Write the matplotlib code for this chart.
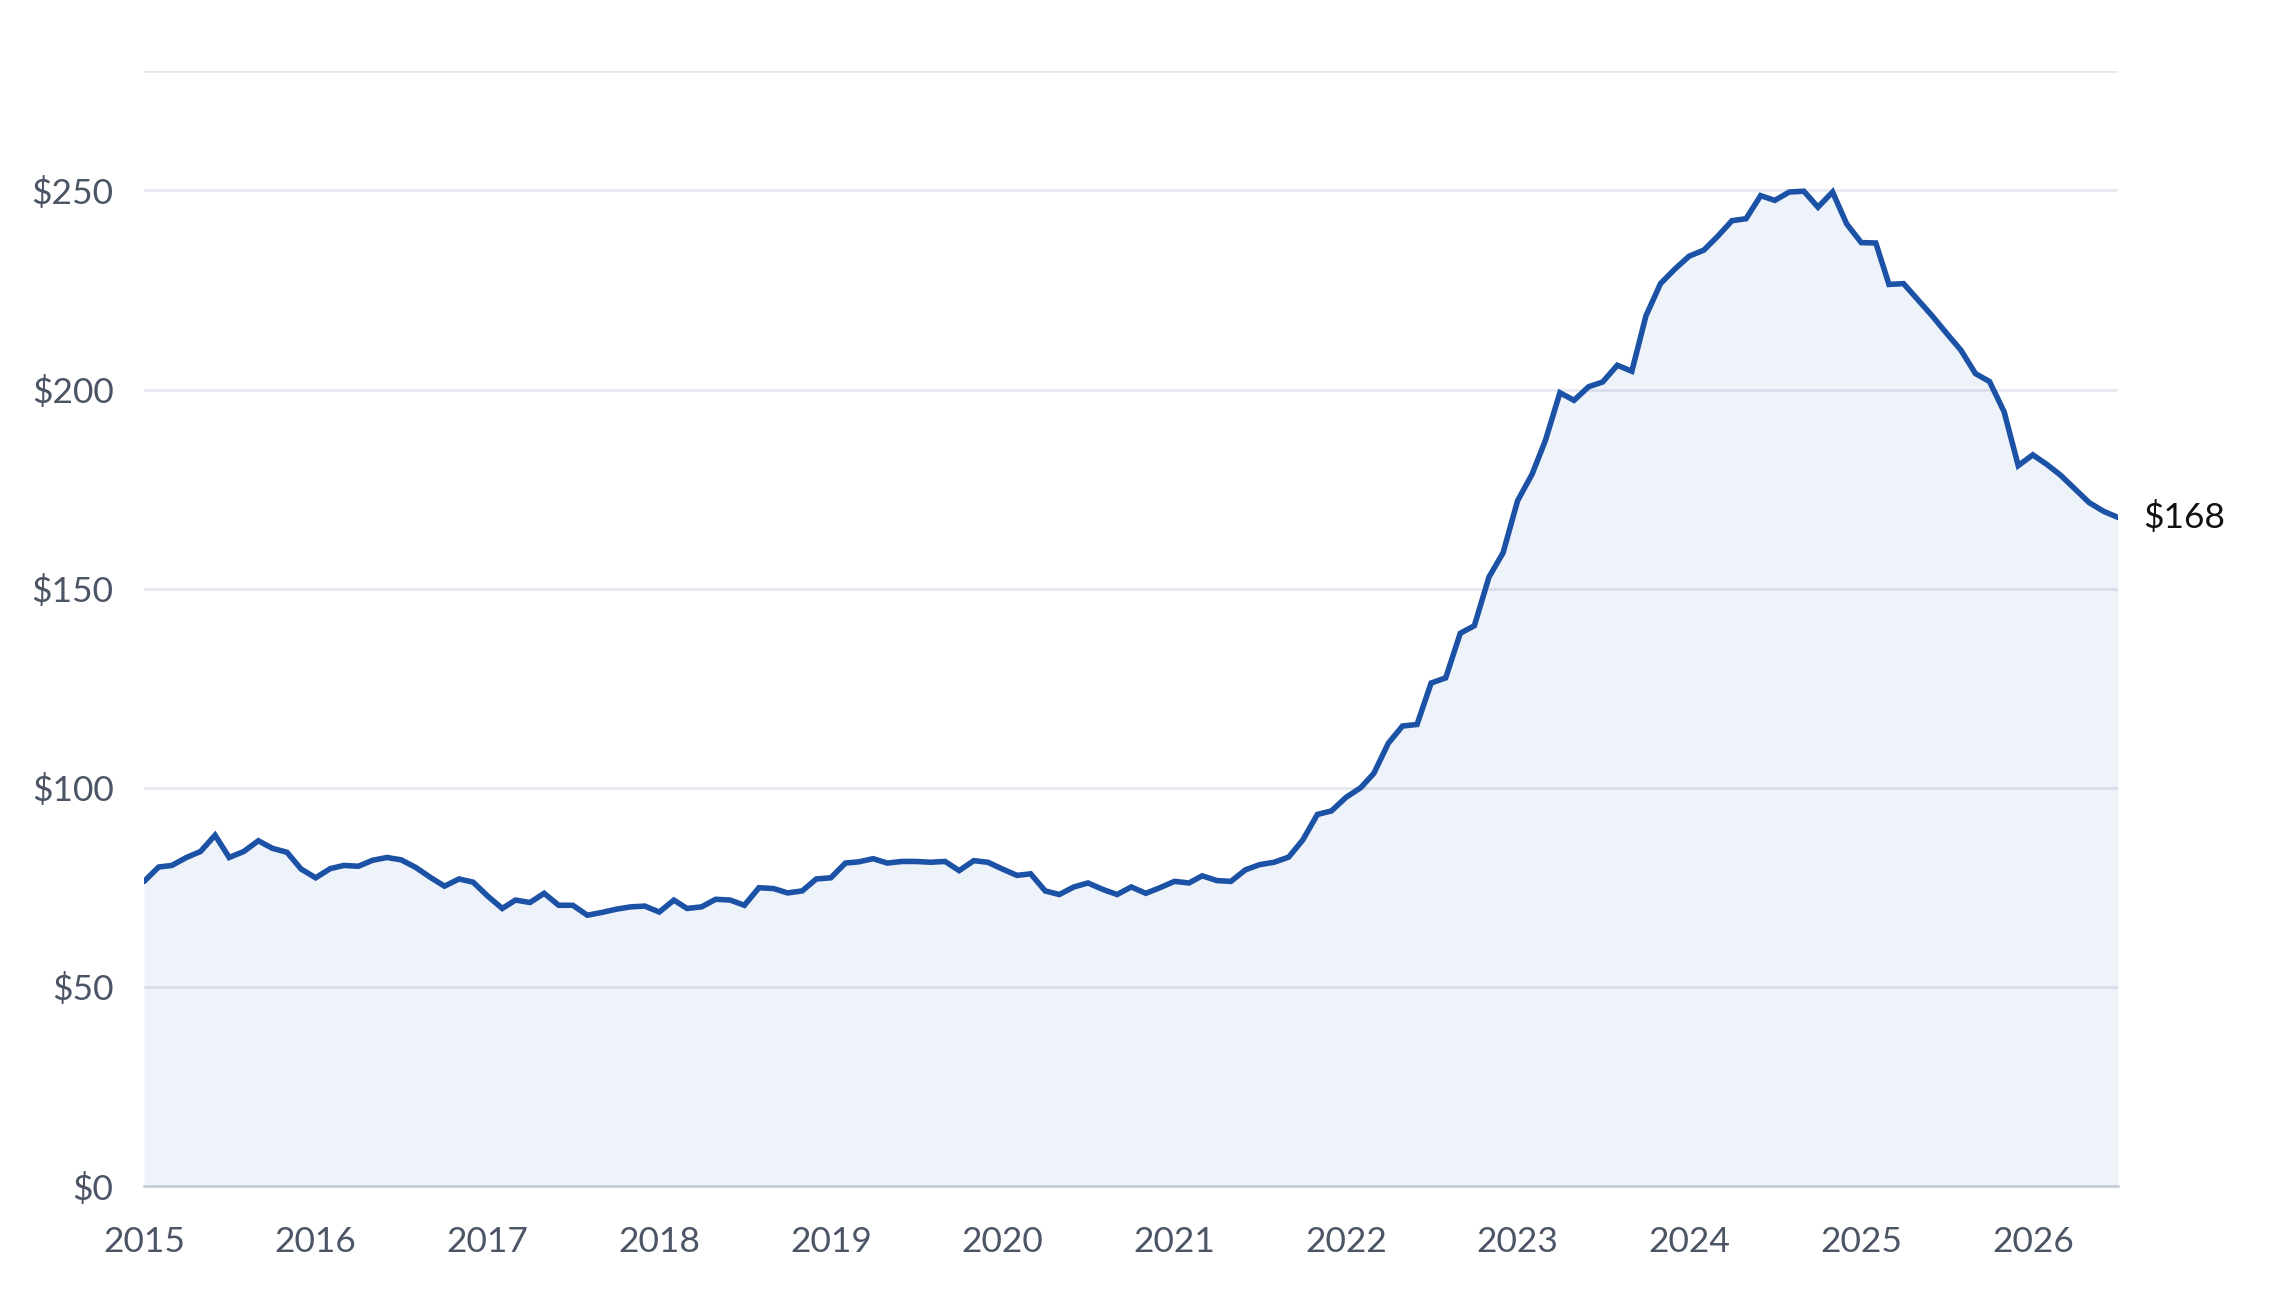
import matplotlib
matplotlib.use("Agg")
import matplotlib.pyplot as plt
import pandas as pd

plt.rcParams["font.family"] = ["Lato", "DejaVu Sans"]

# monthly values, Jan 2015 - Jul 2026
prices = [
    76.5, 80.1, 80.5, 82.5, 84.0, 88.1, 82.5, 84.0, 86.7, 84.8, 83.8, 79.6,
    77.4, 79.7, 80.5, 80.3, 81.8, 82.5, 81.9, 80.0, 77.5, 75.3, 77.1, 76.3,
    72.8, 69.7, 71.8, 71.2, 73.5, 70.5, 70.5, 68.0, 68.7, 69.5, 70.1, 70.3,
    68.8, 71.8, 69.7, 70.1, 72.0, 71.8, 70.5, 74.9, 74.7, 73.6, 74.1, 77.1,
    77.4, 81.1, 81.4, 82.2, 81.1, 81.5, 81.5, 81.3, 81.5, 79.2, 81.7, 81.3,
    79.6, 78.0, 78.4, 74.1, 73.2, 75.1, 76.1, 74.5, 73.2, 75.1, 73.5, 74.9,
    76.5, 76.1, 77.9, 76.7, 76.5, 79.4, 80.7, 81.3, 82.6, 86.9, 93.3, 94.2,
    97.6, 100.0, 103.6, 111.2, 115.5, 115.9, 126.3, 127.6, 138.8, 140.7, 152.9, 159.0,
    172.1, 178.8, 187.2, 199.2, 197.3, 200.7, 201.9, 206.1, 204.6, 218.5, 226.6, 230.2,
    233.5, 235.0, 238.4, 242.4, 242.9, 248.7, 247.5, 249.6, 249.8, 245.8, 249.6, 241.6,
    236.9, 236.8, 226.4, 226.6, 222.6, 218.5, 214.2, 209.9, 204.0, 202.0, 194.4, 180.9,
    183.6, 181.1, 178.5, 175.0, 171.6, 169.4, 167.9,
]
dates = pd.date_range("2015-01-01", periods=len(prices), freq="MS")

y_ticks = [0, 50, 100, 150, 200, 250]
y_top = 280
years = list(range(2015, 2027))

LINE = "#1c52a6"
GRID = "#e4e7ed"
TEXT = "#4b5565"

fig = plt.figure(figsize=(22.8, 12.9), dpi=100)
ax = fig.add_axes([0.0632, 0.0806, 0.8657, 0.8644])

for v in y_ticks[1:] + [y_top]:
    ax.axhline(v, color=GRID, lw=1.8, zorder=1)

ax.fill_between(dates, prices, 0, color="#4a6fc4", alpha=0.09, lw=0, zorder=2)
ax.plot(dates, prices, color=LINE, lw=4.0, zorder=3,
        solid_joinstyle="miter", solid_capstyle="round")

ax.set_xlim(dates[0], dates[-1])
ax.set_ylim(0, y_top)

ax.set_yticks(y_ticks)
ax.set_yticklabels([f"${v}" for v in y_ticks])
ax.set_xticks([pd.Timestamp(f"{y}-01-01") for y in years])
ax.set_xticklabels([str(y) for y in years])
ax.tick_params(axis="y", length=0, pad=22, labelsize=25.5, labelcolor=TEXT)
ax.tick_params(axis="x", length=0, pad=29, labelsize=25.5, labelcolor=TEXT)

for side in ["top", "right", "left"]:
    ax.spines[side].set_visible(False)
ax.spines["bottom"].set_color("#c4c9d3")
ax.spines["bottom"].set_linewidth(1.8)
ax.spines["bottom"].set_zorder(4)

ax.annotate(f"${prices[-1]:.0f}", xy=(dates[-1], prices[-1]),
            xytext=(18, 0), textcoords="offset points",
            va="center", ha="left", fontsize=25.5, color="#111111",
            annotation_clip=False)

fig.savefig("out.png", dpi=100, facecolor="white")
